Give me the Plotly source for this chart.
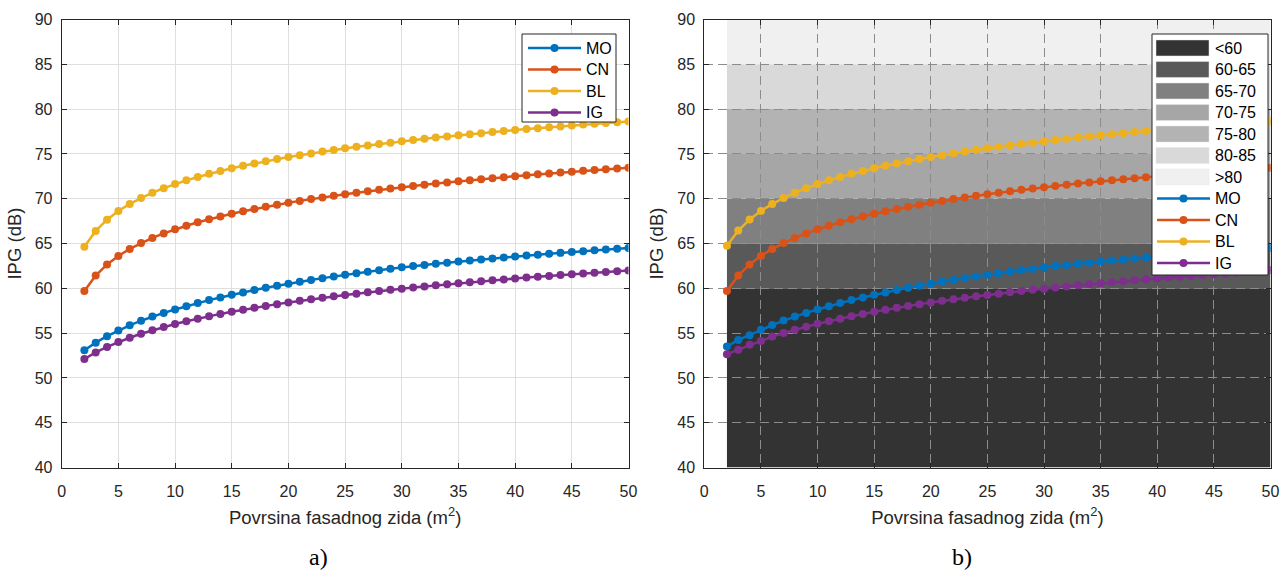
import plotly.graph_objects as go

# ---------------- data ----------------
area = list(range(2, 51))

mo_a = [53.10, 53.94, 54.66, 55.30, 55.88, 56.39, 56.85, 57.26, 57.64, 58.01,
        58.36, 58.69, 58.99, 59.28, 59.55, 59.81, 60.06, 60.30, 60.52, 60.74,
        60.94, 61.14, 61.33, 61.51, 61.69, 61.86, 62.03, 62.19, 62.35, 62.49,
        62.62, 62.75, 62.87, 62.99, 63.11, 63.23, 63.34, 63.45, 63.55, 63.66,
        63.76, 63.86, 63.96, 64.05, 64.14, 64.24, 64.33, 64.41, 64.50]
cn_a = [59.70, 61.43, 62.67, 63.62, 64.40, 65.06, 65.63, 66.13, 66.59, 66.99,
        67.37, 67.71, 68.02, 68.32, 68.60, 68.85, 69.10, 69.33, 69.55, 69.76,
        69.96, 70.15, 70.33, 70.50, 70.67, 70.83, 70.99, 71.14, 71.28, 71.43,
        71.56, 71.69, 71.82, 71.94, 72.06, 72.18, 72.30, 72.41, 72.52, 72.62,
        72.72, 72.82, 72.92, 73.02, 73.11, 73.20, 73.29, 73.38, 73.47]
bl_a = [64.65, 66.41, 67.66, 68.63, 69.42, 70.09, 70.67, 71.18, 71.64, 72.05,
        72.43, 72.78, 73.10, 73.40, 73.68, 73.94, 74.19, 74.43, 74.65, 74.86,
        75.06, 75.26, 75.44, 75.62, 75.79, 75.95, 76.11, 76.26, 76.41, 76.55,
        76.69, 76.83, 76.95, 77.08, 77.20, 77.32, 77.44, 77.55, 77.66, 77.77,
        77.87, 77.97, 78.07, 78.17, 78.27, 78.36, 78.45, 78.54, 78.63]
ig_a = [52.12, 52.85, 53.47, 54.01, 54.49, 54.93, 55.32, 55.69, 56.02, 56.33,
        56.62, 56.89, 57.15, 57.39, 57.62, 57.83, 58.04, 58.24, 58.43, 58.61,
        58.78, 58.95, 59.11, 59.26, 59.41, 59.56, 59.70, 59.84, 59.97, 60.09,
        60.22, 60.34, 60.46, 60.57, 60.68, 60.79, 60.90, 61.00, 61.10, 61.20,
        61.29, 61.39, 61.48, 61.57, 61.66, 61.75, 61.83, 61.92, 62.00]

# panel b: MO and IG start slightly higher at the smallest areas
mo_b = [53.50, 54.25, 54.78, 55.37, 55.90, 56.40, 56.85, 57.26, 57.64, 58.01,
        58.36, 58.69, 58.99, 59.28, 59.55, 59.81, 60.06, 60.30, 60.52, 60.74,
        60.94, 61.14, 61.33, 61.51, 61.69, 61.86, 62.03, 62.19, 62.35, 62.49,
        62.62, 62.75, 62.87, 62.99, 63.11, 63.23, 63.34, 63.45, 63.55, 63.66,
        63.76, 63.86, 63.96, 64.05, 64.14, 64.24, 64.33, 64.41, 64.50]
cn_b = [59.70, 61.43, 62.67, 63.62, 64.40, 65.06, 65.63, 66.13, 66.59, 66.99,
        67.37, 67.71, 68.02, 68.32, 68.60, 68.85, 69.10, 69.33, 69.55, 69.76,
        69.96, 70.15, 70.33, 70.50, 70.67, 70.83, 70.99, 71.14, 71.28, 71.43,
        71.56, 71.69, 71.82, 71.94, 72.06, 72.18, 72.30, 72.41, 72.52, 72.62,
        72.72, 72.82, 72.92, 73.02, 73.11, 73.20, 73.29, 73.38, 73.47]
bl_b = [64.75, 66.45, 67.68, 68.64, 69.42, 70.09, 70.67, 71.18, 71.64, 72.05,
        72.43, 72.78, 73.10, 73.40, 73.68, 73.94, 74.19, 74.43, 74.65, 74.86,
        75.06, 75.26, 75.44, 75.62, 75.79, 75.95, 76.11, 76.26, 76.41, 76.55,
        76.69, 76.83, 76.95, 77.08, 77.20, 77.32, 77.44, 77.55, 77.66, 77.77,
        77.87, 77.97, 78.07, 78.17, 78.27, 78.36, 78.45, 78.54, 78.63]
ig_b = [52.66, 53.14, 53.70, 54.14, 54.62, 55.02, 55.38, 55.72, 56.04, 56.33,
        56.62, 56.89, 57.15, 57.39, 57.62, 57.83, 58.04, 58.24, 58.43, 58.61,
        58.78, 58.95, 59.11, 59.26, 59.41, 59.56, 59.70, 59.84, 59.97, 60.09,
        60.22, 60.34, 60.46, 60.57, 60.68, 60.79, 60.90, 61.00, 61.10, 61.20,
        61.29, 61.39, 61.48, 61.57, 61.66, 61.75, 61.83, 61.92, 62.05]

series_names = ["MO", "CN", "BL", "IG"]
series_colors = ["#0072BD", "#D95319", "#EDB120", "#7E2F8E"]

band_labels = ["<60", "60-65", "65-70", "70-75", "75-80", "80-85", ">80"]
band_low = [40, 60, 65, 70, 75, 80, 85]
band_high = [60, 65, 70, 75, 80, 85, 90]
band_colors = ["#333333", "#595959", "#808080", "#a6a6a6", "#b3b3b3", "#d9d9d9", "#f0f0f0"]
band_x = [2, 50]

tick_vals_x = list(range(0, 51, 5))
tick_vals_y = list(range(40, 91, 5))

# ---------------- figure ----------------
W, H = 1285, 571
fig = go.Figure()

LEG_FS = 14.24          # sets the legend row pitch
ITEM_PITCH = LEG_FS * 1.3 + 3
TXT = '<span style="font-size:16px">{}</span>'


def lab(s):
    return TXT.format(s)


for name, ys, col in zip(series_names, [mo_a, cn_a, bl_a, ig_a], series_colors):
    fig.add_trace(go.Scatter(x=area, y=ys, name=lab(name), mode="lines+markers",
                             line=dict(color=col, width=2.5),
                             marker=dict(color=col, size=8),
                             xaxis="x", yaxis="y", legend="legend",
                             legendrank=100))

for name, ys, col in zip(series_names, [mo_b, cn_b, bl_b, ig_b], series_colors):
    fig.add_trace(go.Scatter(x=area, y=ys, name=lab(name), mode="lines+markers",
                             line=dict(color=col, width=2.5),
                             marker=dict(color=col, size=8),
                             xaxis="x2", yaxis="y2", legend="legend2",
                             legendrank=100))

# legend boxes (drawn as paper shapes, legend itself is transparent)
fig.add_shape(type="rect", xref="paper", yref="paper",
              x0=522 / W, x1=616 / W, y0=1 - 122 / H, y1=1 - 34 / H,
              fillcolor="white", line=dict(color="#262626", width=1), layer="above")
fig.add_shape(type="rect", xref="paper", yref="paper",
              x0=1152 / W, x1=1268 / W, y0=1 - 275 / H, y1=1 - 34 / H,
              fillcolor="white", line=dict(color="#262626", width=1), layer="above")

LEG_TOP = 31.2
first_c = LEG_TOP + 1 + 5 + ITEM_PITCH / 2

for i, (lb, lo, hi, col) in enumerate(zip(band_labels, band_low, band_high, band_colors)):
    # band in the axes
    fig.add_shape(type="rect", xref="x2", yref="y2",
                  x0=band_x[0], x1=band_x[1], y0=lo, y1=hi,
                  fillcolor=col, line=dict(width=0), layer="below",
                  showlegend=True, name=lab(lb), legend="legend2", legendrank=i + 1)
    # large legend swatch
    cy = first_c + i * ITEM_PITCH
    fig.add_shape(type="rect", xref="paper", yref="paper",
                  x0=1156 / W, x1=1209 / W, y0=1 - (cy + 8) / H, y1=1 - (cy - 8) / H,
                  fillcolor=col, line=dict(color="#e6e6e6", width=0.5), layer="above")

font_main = "Liberation Sans, Arial, sans-serif"
axis_common = dict(
    showline=True, linecolor="#262626", linewidth=1, mirror="ticks",
    ticks="inside", ticklen=5, tickcolor="#262626",
    tickfont=dict(family=font_main, size=16, color="#262626"),
    zeroline=False, automargin=False,
)
xt = dict(text="Povrsina fasadnog zida (m<sup>2</sup>)",
          font=dict(size=18.5, family=font_main, color="#262626"), standoff=12)
yt = dict(text="IPG (dB)", font=dict(size=18.5, family=font_main, color="#262626"), standoff=8)

top_frac = 1 - 19.5 / H
bot_frac = 1 - 467.6 / H

fig.update_layout(
    width=W, height=H,
    margin=dict(l=0, r=0, t=0, b=0),
    paper_bgcolor="white", plot_bgcolor="white",
    font=dict(family=font_main, color="#262626"),
    xaxis=dict(domain=[61.7 / W, 628.5 / W], range=[0, 50], tickvals=tick_vals_x,
               showgrid=True, gridcolor="#dfdfdf", gridwidth=1, ticklabelstandoff=9,
               title=xt, anchor="y", **axis_common),
    yaxis=dict(domain=[bot_frac, top_frac], range=[40, 90], tickvals=tick_vals_y,
               showgrid=True, gridcolor="#dfdfdf", gridwidth=1, ticklabelstandoff=5,
               title=yt, anchor="x", **axis_common),
    xaxis2=dict(domain=[704.3 / W, 1270.5 / W], range=[0, 50], tickvals=tick_vals_x,
                showgrid=True, gridcolor="#8c8c8c", gridwidth=1, griddash="9px,5px",
                ticklabelstandoff=9, title=xt, anchor="y2", **axis_common),
    yaxis2=dict(domain=[bot_frac, top_frac], range=[40, 90], tickvals=tick_vals_y,
                showgrid=True, gridcolor="#8c8c8c", gridwidth=1, griddash="9px,5px",
                ticklabelstandoff=5, title=yt, anchor="x2", **axis_common),
    legend=dict(x=522 / W, y=1 - LEG_TOP / H, xanchor="left", yanchor="top",
                bgcolor="rgba(0,0,0,0)", bordercolor="rgba(0,0,0,0)", borderwidth=1,
                font=dict(family=font_main, size=LEG_FS, color="#000000"),
                itemwidth=53, tracegroupgap=0),
    legend2=dict(x=1151 / W, y=1 - LEG_TOP / H, xanchor="left", yanchor="top",
                 bgcolor="rgba(0,0,0,0)", bordercolor="rgba(0,0,0,0)", borderwidth=1,
                 font=dict(family=font_main, size=LEG_FS, color="#000000"),
                 itemwidth=53, tracegroupgap=0),
    annotations=[
        dict(text="a)", x=318 / W, y=1 - 557 / H, xref="paper", yref="paper",
             xanchor="center", yanchor="middle", showarrow=False,
             font=dict(family="Liberation Serif, Times New Roman, serif", size=24, color="#000")),
        dict(text="b)", x=962 / W, y=1 - 557 / H, xref="paper", yref="paper",
             xanchor="center", yanchor="middle", showarrow=False,
             font=dict(family="Liberation Serif, Times New Roman, serif", size=24, color="#000")),
    ],
)

fig.write_html("out.html", config={"displayModeBar": False},
               post_script="document.body.style.margin='0px';")
